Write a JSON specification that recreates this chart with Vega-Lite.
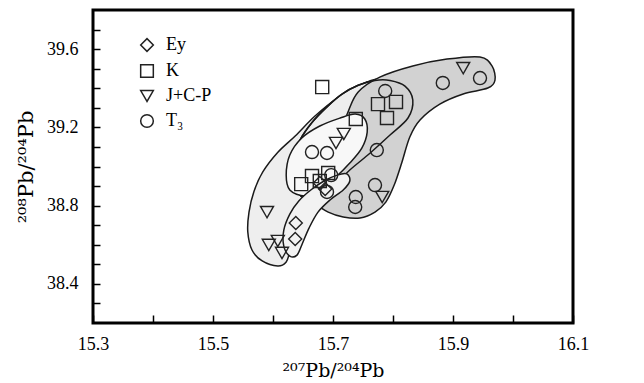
{
  "$schema": "https://vega.github.io/schema/vega-lite/v6.json",
  "width": 480,
  "height": 313,
  "autosize": "none",
  "padding": {"left": 93, "top": 10, "right": 71, "bottom": 60},
  "background": "white",
  "config": {
    "view": {"stroke": "black", "strokeWidth": 3},
    "legend": {
      "labelFont": "Liberation Serif",
      "labelFontSize": 18,
      "labelColor": "black"
    }
  },
  "datasets": {
    "pts": [
      {"type": "Ey", "x": 15.638, "y": 38.711},
      {"type": "Ey", "x": 15.637, "y": 38.629},
      {"type": "Ey", "x": 15.678, "y": 38.916},
      {"type": "Ey", "x": 15.687, "y": 38.885},
      {"type": "K", "x": 15.682, "y": 39.406},
      {"type": "K", "x": 15.738, "y": 39.243},
      {"type": "K", "x": 15.775, "y": 39.319},
      {"type": "K", "x": 15.805, "y": 39.33},
      {"type": "K", "x": 15.79, "y": 39.248},
      {"type": "K", "x": 15.647, "y": 38.91},
      {"type": "K", "x": 15.665, "y": 38.951},
      {"type": "K", "x": 15.692, "y": 38.967},
      {"type": "K", "x": 15.678, "y": 38.926},
      {"type": "J+C-P", "x": 15.59, "y": 38.767},
      {"type": "J+C-P", "x": 15.593, "y": 38.599},
      {"type": "J+C-P", "x": 15.608, "y": 38.619},
      {"type": "J+C-P", "x": 15.615, "y": 38.558},
      {"type": "J+C-P", "x": 15.705, "y": 39.12},
      {"type": "J+C-P", "x": 15.718, "y": 39.166},
      {"type": "J+C-P", "x": 15.782, "y": 38.844},
      {"type": "J+C-P", "x": 15.917, "y": 39.503},
      {"type": "T₃", "x": 15.665, "y": 39.074},
      {"type": "T₃", "x": 15.69, "y": 39.069},
      {"type": "T₃", "x": 15.787, "y": 39.386},
      {"type": "T₃", "x": 15.883, "y": 39.427},
      {"type": "T₃", "x": 15.945, "y": 39.452},
      {"type": "T₃", "x": 15.773, "y": 39.084},
      {"type": "T₃", "x": 15.77, "y": 38.905},
      {"type": "T₃", "x": 15.738, "y": 38.844},
      {"type": "T₃", "x": 15.737, "y": 38.793},
      {"type": "T₃", "x": 15.697, "y": 38.956},
      {"type": "T₃", "x": 15.69, "y": 38.87}
    ],
    "tkx": [
      {"x": 15.4, "m": 0},
      {"x": 15.5, "m": 1},
      {"x": 15.6, "m": 0},
      {"x": 15.7, "m": 1},
      {"x": 15.8, "m": 0},
      {"x": 15.9, "m": 1},
      {"x": 16.0, "m": 0}
    ],
    "tky": [
      {"y": 38.3, "m": 0},
      {"y": 38.4, "m": 1},
      {"y": 38.5, "m": 0},
      {"y": 38.6, "m": 0},
      {"y": 38.7, "m": 0},
      {"y": 38.8, "m": 1},
      {"y": 38.9, "m": 0},
      {"y": 39.0, "m": 0},
      {"y": 39.1, "m": 0},
      {"y": 39.2, "m": 1},
      {"y": 39.3, "m": 0},
      {"y": 39.4, "m": 0},
      {"y": 39.5, "m": 0},
      {"y": 39.6, "m": 1},
      {"y": 39.7, "m": 0}
    ],
    "env": [
      {"f": "A", "o": 1, "x": 15.608, "y": 38.491},
      {"f": "A", "o": 2, "x": 15.582, "y": 38.517},
      {"f": "A", "o": 3, "x": 15.565, "y": 38.573},
      {"f": "A", "o": 4, "x": 15.558, "y": 38.665},
      {"f": "A", "o": 5, "x": 15.56, "y": 38.767},
      {"f": "A", "o": 6, "x": 15.568, "y": 38.87},
      {"f": "A", "o": 7, "x": 15.583, "y": 38.972},
      {"f": "A", "o": 8, "x": 15.607, "y": 39.069},
      {"f": "A", "o": 9, "x": 15.637, "y": 39.156},
      {"f": "A", "o": 10, "x": 15.67, "y": 39.258},
      {"f": "A", "o": 11, "x": 15.707, "y": 39.35},
      {"f": "A", "o": 12, "x": 15.742, "y": 39.411},
      {"f": "A", "o": 13, "x": 15.775, "y": 39.447},
      {"f": "A", "o": 14, "x": 15.812, "y": 39.422},
      {"f": "A", "o": 15, "x": 15.803, "y": 39.34},
      {"f": "A", "o": 16, "x": 15.77, "y": 39.212},
      {"f": "A", "o": 17, "x": 15.728, "y": 39.084},
      {"f": "A", "o": 18, "x": 15.695, "y": 38.956},
      {"f": "A", "o": 19, "x": 15.67, "y": 38.844},
      {"f": "A", "o": 20, "x": 15.65, "y": 38.742},
      {"f": "A", "o": 21, "x": 15.637, "y": 38.639},
      {"f": "A", "o": 22, "x": 15.628, "y": 38.563},
      {"f": "A", "o": 23, "x": 15.622, "y": 38.512},

      {"f": "B", "o": 1, "x": 15.645, "y": 38.854},
      {"f": "B", "o": 2, "x": 15.633, "y": 38.931},
      {"f": "B", "o": 3, "x": 15.633, "y": 39.033},
      {"f": "B", "o": 4, "x": 15.645, "y": 39.135},
      {"f": "B", "o": 5, "x": 15.665, "y": 39.225},
      {"f": "B", "o": 6, "x": 15.69, "y": 39.305},
      {"f": "B", "o": 7, "x": 15.715, "y": 39.37},
      {"f": "B", "o": 8, "x": 15.742, "y": 39.415},
      {"f": "B", "o": 9, "x": 15.77, "y": 39.44},
      {"f": "B", "o": 10, "x": 15.795, "y": 39.44},
      {"f": "B", "o": 11, "x": 15.82, "y": 39.411},
      {"f": "B", "o": 12, "x": 15.833, "y": 39.34},
      {"f": "B", "o": 13, "x": 15.825, "y": 39.248},
      {"f": "B", "o": 14, "x": 15.795, "y": 39.161},
      {"f": "B", "o": 15, "x": 15.762, "y": 39.069},
      {"f": "B", "o": 16, "x": 15.728, "y": 38.982},
      {"f": "B", "o": 17, "x": 15.703, "y": 38.905},
      {"f": "B", "o": 18, "x": 15.678, "y": 38.849},
      {"f": "B", "o": 19, "x": 15.658, "y": 38.834},

      {"f": "D", "o": 1, "x": 15.778, "y": 39.457},
      {"f": "D", "o": 2, "x": 15.833, "y": 39.514},
      {"f": "D", "o": 3, "x": 15.89, "y": 39.549},
      {"f": "D", "o": 4, "x": 15.945, "y": 39.56},
      {"f": "D", "o": 5, "x": 15.965, "y": 39.514},
      {"f": "D", "o": 6, "x": 15.97, "y": 39.442},
      {"f": "D", "o": 7, "x": 15.958, "y": 39.401},
      {"f": "D", "o": 8, "x": 15.917, "y": 39.371},
      {"f": "D", "o": 9, "x": 15.878, "y": 39.319},
      {"f": "D", "o": 10, "x": 15.845, "y": 39.238},
      {"f": "D", "o": 11, "x": 15.828, "y": 39.151},
      {"f": "D", "o": 12, "x": 15.815, "y": 39.023},
      {"f": "D", "o": 13, "x": 15.802, "y": 38.905},
      {"f": "D", "o": 14, "x": 15.788, "y": 38.818},
      {"f": "D", "o": 15, "x": 15.77, "y": 38.767},
      {"f": "D", "o": 16, "x": 15.745, "y": 38.737},
      {"f": "D", "o": 17, "x": 15.717, "y": 38.742},
      {"f": "D", "o": 18, "x": 15.692, "y": 38.767},
      {"f": "D", "o": 19, "x": 15.675, "y": 38.803},
      {"f": "D", "o": 20, "x": 15.67, "y": 38.844},
      {"f": "D", "o": 21, "x": 15.678, "y": 38.905},
      {"f": "D", "o": 22, "x": 15.695, "y": 39.008},
      {"f": "D", "o": 23, "x": 15.708, "y": 39.135},
      {"f": "D", "o": 24, "x": 15.725, "y": 39.279},
      {"f": "D", "o": 25, "x": 15.742, "y": 39.381},

      {"f": "C", "o": 1, "x": 15.628, "y": 38.88},
      {"f": "C", "o": 2, "x": 15.622, "y": 38.956},
      {"f": "C", "o": 3, "x": 15.628, "y": 39.059},
      {"f": "C", "o": 4, "x": 15.648, "y": 39.146},
      {"f": "C", "o": 5, "x": 15.678, "y": 39.207},
      {"f": "C", "o": 6, "x": 15.712, "y": 39.248},
      {"f": "C", "o": 7, "x": 15.737, "y": 39.268},
      {"f": "C", "o": 8, "x": 15.753, "y": 39.243},
      {"f": "C", "o": 9, "x": 15.757, "y": 39.176},
      {"f": "C", "o": 10, "x": 15.748, "y": 39.094},
      {"f": "C", "o": 11, "x": 15.728, "y": 39.018},
      {"f": "C", "o": 12, "x": 15.703, "y": 38.941},
      {"f": "C", "o": 13, "x": 15.678, "y": 38.88},
      {"f": "C", "o": 14, "x": 15.653, "y": 38.849},

      {"f": "E", "o": 1, "x": 15.628, "y": 38.542},
      {"f": "E", "o": 2, "x": 15.618, "y": 38.593},
      {"f": "E", "o": 3, "x": 15.618, "y": 38.675},
      {"f": "E", "o": 4, "x": 15.628, "y": 38.757},
      {"f": "E", "o": 5, "x": 15.643, "y": 38.824},
      {"f": "E", "o": 6, "x": 15.663, "y": 38.88},
      {"f": "E", "o": 7, "x": 15.685, "y": 38.926},
      {"f": "E", "o": 8, "x": 15.707, "y": 38.956},
      {"f": "E", "o": 9, "x": 15.723, "y": 38.962},
      {"f": "E", "o": 10, "x": 15.728, "y": 38.926},
      {"f": "E", "o": 11, "x": 15.717, "y": 38.88},
      {"f": "E", "o": 12, "x": 15.695, "y": 38.829},
      {"f": "E", "o": 13, "x": 15.675, "y": 38.767},
      {"f": "E", "o": 14, "x": 15.66, "y": 38.685},
      {"f": "E", "o": 15, "x": 15.648, "y": 38.599},
      {"f": "E", "o": 16, "x": 15.64, "y": 38.547}
    ]
  },
  "encoding": {
    "x": {
      "field": "x",
      "type": "quantitative",
      "scale": {"domain": [15.3, 16.1], "nice": false, "zero": false},
      "axis": {
        "title": "²⁰⁷Pb/²⁰⁴Pb",
        "titleFont": "DejaVu Serif",
        "titleFontSize": 19,
        "titleFontWeight": "normal",
        "titleColor": "black",
        "values": [15.3, 15.4, 15.5, 15.6, 15.7, 15.8, 15.9, 16.0, 16.1],
        "labelExpr": "round(datum.value*10)%2==1 ? format(datum.value,'.1f') : ''",
        "labelFont": "Liberation Serif",
        "labelFontSize": 18,
        "labelColor": "black",
        "domain": false,
        "grid": false,
        "ticks": true,
        "tickColor": "black",
        "tickWidth": 1.5,
        "tickSize": -8,
        "labelPadding": 20,
        "titlePadding": 8,
        "labelFlush": false,
        "labelOverlap": false
      }
    },
    "y": {
      "field": "y",
      "type": "quantitative",
      "scale": {"domain": [38.2, 39.8], "nice": false, "zero": false},
      "axis": {
        "title": "²⁰⁸Pb/²⁰⁴Pb",
        "titleFont": "DejaVu Serif",
        "titleFontSize": 21,
        "titleFontWeight": "normal",
        "titleColor": "black",
        "values": [38.3, 38.4, 38.5, 38.6, 38.7, 38.8, 38.9, 39.0, 39.1, 39.2, 39.3, 39.4, 39.5, 39.6, 39.7],
        "labelExpr": "round(datum.value*10)%4==0 ? format(datum.value,'.1f') : ''",
        "labelFont": "Liberation Serif",
        "labelFontSize": 18,
        "labelColor": "black",
        "domain": false,
        "grid": false,
        "ticks": true,
        "tickColor": "black",
        "tickWidth": 1.5,
        "tickSize": -7,
        "labelPadding": 22,
        "titlePadding": 10,
        "labelFlush": false,
        "labelOverlap": false
      }
    }
  },
  "layer": [
    {
      "data": {"name": "env"},
      "transform": [{"filter": "datum.f == 'A'"}],
      "mark": {"type": "line", "interpolate": "cardinal-closed", "fill": "#eeeeee", "stroke": "#1a1a1a", "strokeWidth": 1.5},
      "encoding": {"order": {"field": "o", "type": "quantitative"}}
    },
    {
      "data": {"name": "env"},
      "transform": [{"filter": "datum.f == 'B'"}],
      "mark": {"type": "line", "interpolate": "cardinal-closed", "fill": "#eeeeee", "stroke": "#1a1a1a", "strokeWidth": 1.5},
      "encoding": {"order": {"field": "o", "type": "quantitative"}}
    },
    {
      "data": {"name": "env"},
      "transform": [{"filter": "datum.f == 'D'"}],
      "mark": {"type": "line", "interpolate": "cardinal-closed", "fill": "#d2d2d2", "stroke": "#1a1a1a", "strokeWidth": 1.5},
      "encoding": {"order": {"field": "o", "type": "quantitative"}}
    },
    {
      "data": {"name": "env"},
      "transform": [{"filter": "datum.f == 'B'"}],
      "mark": {"type": "line", "interpolate": "cardinal-closed", "stroke": "#1a1a1a", "strokeWidth": 1.5},
      "encoding": {"order": {"field": "o", "type": "quantitative"}}
    },
    {
      "data": {"name": "env"},
      "transform": [{"filter": "datum.f == 'C'"}],
      "mark": {"type": "line", "interpolate": "cardinal-closed", "fill": "#f8f8f8", "stroke": "#1a1a1a", "strokeWidth": 1.5},
      "encoding": {"order": {"field": "o", "type": "quantitative"}}
    },
    {
      "data": {"name": "env"},
      "transform": [{"filter": "datum.f == 'E'"}],
      "mark": {"type": "line", "interpolate": "cardinal-closed", "fill": "#f2f2f2", "stroke": "#1a1a1a", "strokeWidth": 1.5},
      "encoding": {"order": {"field": "o", "type": "quantitative"}}
    },
    {
      "data": {"name": "pts"},
      "mark": {"type": "point", "filled": false, "strokeWidth": 1.4, "size": 170, "opacity": 1},
      "encoding": {
        "shape": {
          "field": "type",
          "type": "nominal",
          "scale": {"domain": ["Ey", "K", "J+C-P", "T₃"], "range": ["diamond", "square", "triangle-down", "circle"]},
          "legend": {
            "title": null,
            "orient": "none",
            "legendX": 45,
            "legendY": 26,
            "padding": 0,
            "symbolSize": 160,
            "symbolStrokeWidth": 1.5,
            "symbolStrokeColor": "#222",
            "symbolFillColor": "transparent",
            "labelOffset": 10,
            "rowPadding": 6
          }
        },
        "color": {"value": "#222"}
      }
    },
    {
      "data": {"name": "tkx"},
      "transform": [{"filter": "datum.m == 1"}],
      "mark": {"type": "rule", "color": "black", "strokeWidth": 1.5},
      "encoding": {"y": {"datum": 38.2}, "y2": {"datum": 38.251}}
    },
    {
      "data": {"name": "tkx"},
      "transform": [{"filter": "datum.m == 0"}],
      "mark": {"type": "rule", "color": "black", "strokeWidth": 1.5},
      "encoding": {"y": {"datum": 38.2}, "y2": {"datum": 38.231}}
    },
    {
      "data": {"name": "tky"},
      "transform": [{"filter": "datum.m == 1"}],
      "mark": {"type": "rule", "color": "black", "strokeWidth": 1.5},
      "encoding": {"x": {"datum": 15.3}, "x2": {"datum": 15.315}}
    },
    {
      "data": {"name": "tky"},
      "transform": [{"filter": "datum.m == 0"}],
      "mark": {"type": "rule", "color": "black", "strokeWidth": 1.5},
      "encoding": {"x": {"datum": 15.3}, "x2": {"datum": 15.3085}}
    }
  ]
}
